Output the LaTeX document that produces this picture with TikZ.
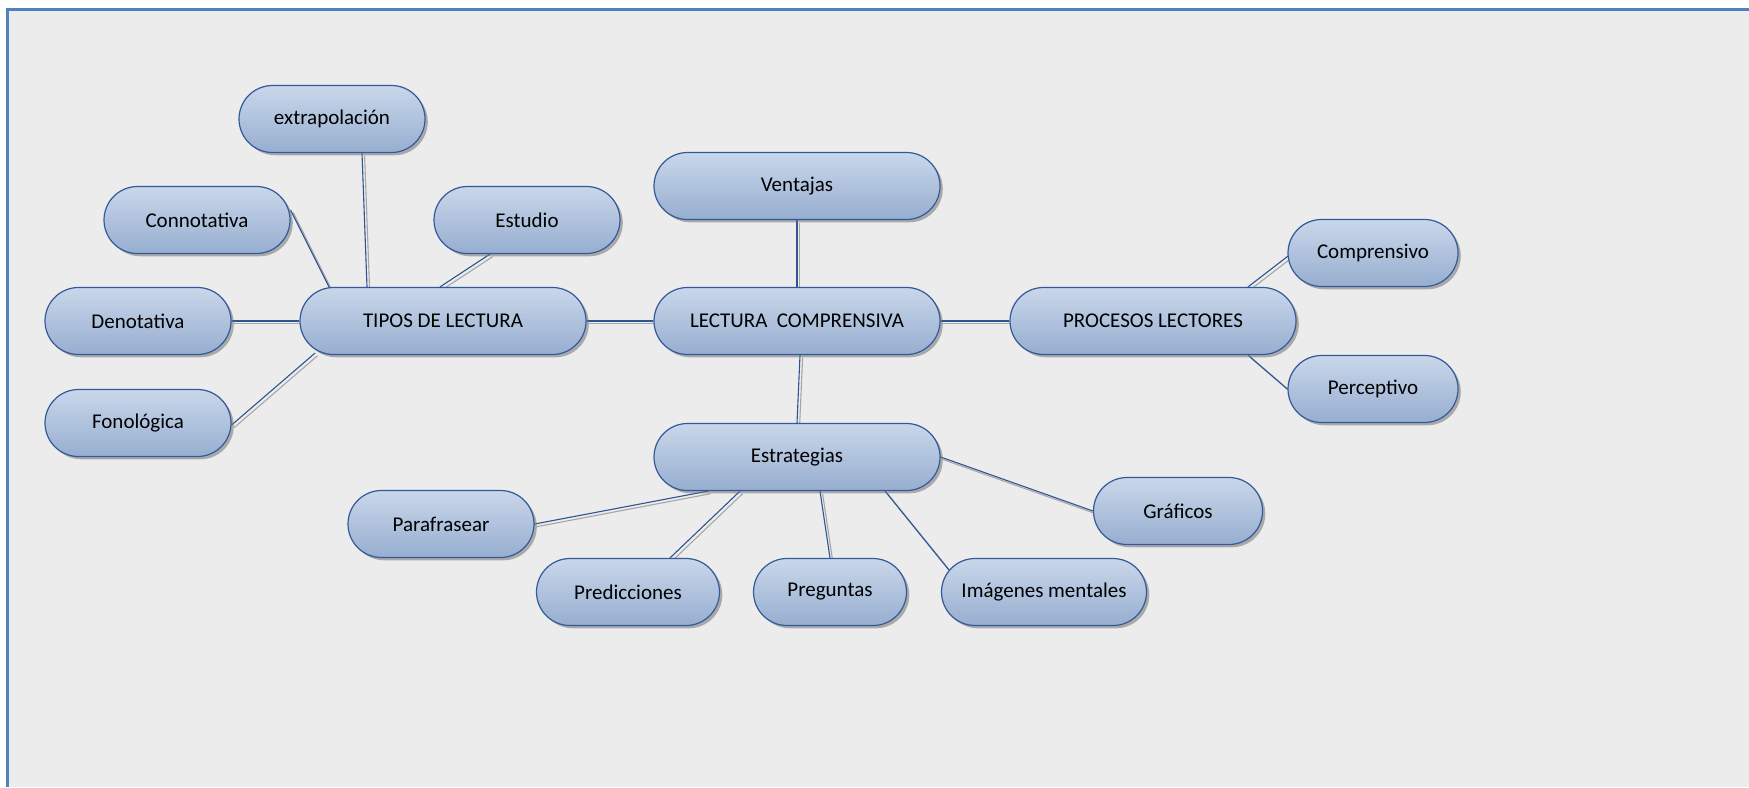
\documentclass[tikz,border=0pt]{standalone}
\usepackage{fontspec}
\setmainfont{Carlito}
\usetikzlibrary{calc,shadows,backgrounds}
\definecolor{frameblue}{HTML}{4F81BD}
\definecolor{bggray}{HTML}{ECECEC}
\definecolor{nodetop}{HTML}{C9D7EA}
\definecolor{nodebot}{HTML}{97AED0}
\definecolor{nodeborder}{HTML}{34599A}
\definecolor{linkblue}{HTML}{2E5494}
\definecolor{linkgray}{HTML}{A6A6A6}
\tikzset{
  bubble/.style={rectangle, rounded corners=16.75pt, minimum height=33.5pt,
    inner sep=0pt, draw=nodeborder, line width=0.6pt,
    top color=nodetop, bottom color=nodebot,
    font=\fontsize{10.5}{12}\selectfont, text=black,
    drop shadow={shadow xshift=1.4pt, shadow yshift=-1.4pt, fill=black!55, opacity=0.55}},
  wideb/.style={bubble, minimum width=143pt},
  midb/.style={bubble, minimum width=93pt},
  linkmain/.style={draw=linkblue, line width=0.55pt},
  linkshade/.style={draw=linkgray, line width=0.55pt, transform canvas={shift={(1.3pt,-1.3pt)}}}
}
\newcommand\linkab[2]{\draw[linkshade] #1 -- #2; \draw[linkmain] #1 -- #2;}
\begin{document}
\begin{tikzpicture}[x=0.5pt,y=-0.5pt]
\useasboundingbox (0,0) rectangle (1749,787);
% nodes
\node[midb] (ex) at (332,119) {extrapolación};
\node[midb] (co) at (197,220) {Connotativa};
\node[midb] (es) at (527,220) {Estudio};
\node[wideb] (ve) at (797,186) {Ventajas};
\node[midb] (de) at (138,321) {Denotativa};
\node[wideb] (tl) at (443,321) {TIPOS DE LECTURA};
\node[wideb] (lc) at (797,321) {LECTURA\ \ COMPRENSIVA};
\node[wideb] (pl) at (1153,321) {PROCESOS LECTORES};
\node[bubble, minimum width=85pt] (cp) at (1373,253) {Comprensivo};
\node[bubble, minimum width=85pt] (pe) at (1373,389) {Perceptivo};
\node[midb] (fo) at (138,423) {Fonológica};
\node[wideb] (st) at (797,457) {Estrategias};
\node[bubble, minimum width=84.5pt] (gr) at (1178,511) {Gráficos};
\node[midb] (pa) at (441,524) {Parafrasear};
\node[bubble, minimum width=91.5pt] (pr) at (628,592) {Predicciones};
\node[bubble, minimum width=76.5pt] (pg) at (830,592) {Preguntas};
\node[bubble, minimum width=102.5pt] (im) at (1044,592) {Imágenes mentales};
\begin{scope}[on background layer]
\fill[white] (0,0) rectangle (1749,787);
\fill[bggray] (9,11) rectangle (1749,787);
\draw[frameblue, line width=1.5pt] (7.5,787) -- (7.5,9.5) -- (1749,9.5);
\linkab{($(ex.south)+(30,0)$)}{($(tl.north)+(-76,0)$)}
\linkab{($(co.east)+(0,-10)$)}{($(tl.north)+(-113,2)$)}
\linkab{($(es.south)+(-37,0)$)}{($(tl.north)+(-3,0)$)}
\linkab{(de.east)}{(tl.west)}
\linkab{($(fo.east)+(0,2)$)}{($(tl.south)+(-128,-2)$)}
\linkab{(tl.east)}{(lc.west)}
\linkab{(ve.south)}{(lc.north)}
\linkab{(lc.east)}{(pl.west)}
\linkab{($(pl.north)+(95,0)$)}{($(cp.west)+(2,2)$)}
\linkab{($(pl.south)+(95,0)$)}{(pe.west)}
\linkab{($(lc.south)+(3,0)$)}{(st.north)}
\linkab{(st.east)}{(gr.west)}
\linkab{($(st.south)+(-89,0)$)}{(pa.east)}
\linkab{($(st.south)+(-57,0)$)}{($(pr.north)+(42,0)$)}
\linkab{($(st.south)+(23,0)$)}{(pg.north)}
\linkab{($(st.south)+(88,0)$)}{($(im.west)+(8,-22)$)}
\end{scope}
\end{tikzpicture}
\end{document}
